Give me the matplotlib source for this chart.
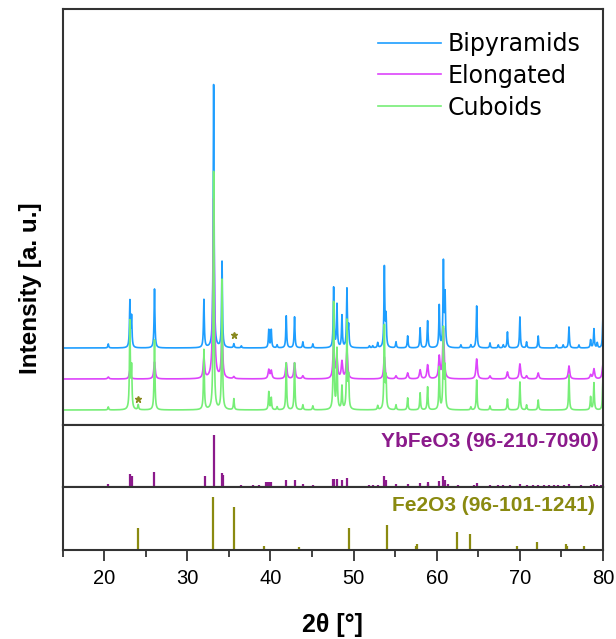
import numpy as np
import matplotlib.pyplot as plt

# peak positions (2theta, deg) and heights (a.u.) of the measured patterns
pos_bipy = [20.5, 23.1, 23.3, 26.06, 32.0, 33.17, 34.18, 35.6, 36.5, 39.8, 40.1, 40.8,
            41.9, 42.9, 43.9, 45.1, 47.6, 48.0, 48.6, 49.2, 49.4, 51.9, 52.3, 52.9,
            53.7, 53.9, 55.1, 56.5, 58.0, 58.9, 60.3, 60.8, 61.0, 62.9, 64.1, 64.8,
            66.4, 67.4, 68.0, 68.5, 70.0, 70.8, 72.2, 74.4, 75.2, 75.9, 77.1, 78.5,
            78.9, 79.3, 79.97]
int_bipy = [4, 46, 30, 59, 48, 263, 86, 4, 2, 18, 18, 3,
            32, 31, 6, 4, 60, 43, 32, 58, 20, 2, 2, 5,
            80, 30, 6, 12, 20, 27, 42, 84, 51, 3, 3, 42,
            5, 3, 3, 16, 31, 6, 12, 3, 3, 21, 3, 8,
            19, 5, 28]

pos_elong = [20.5, 23.1, 26.06, 32.0, 33.17, 34.18, 35.6, 39.8, 40.1, 41.9, 42.9, 43.9,
             47.6, 48.0, 48.6, 49.2, 53.7, 55.1, 56.5, 58.0, 58.9, 60.3, 60.8, 64.8,
             66.4, 68.5, 70.0, 70.8, 72.2, 75.9, 78.5, 78.9, 79.97]
int_elong = [2, 9, 17, 21, 180, 47, 2, 9, 8, 16, 16, 3,
             35, 20, 17, 28, 22, 3, 6, 9, 14, 22, 50, 20,
             3, 7, 15, 3, 6, 13, 4, 10, 14]

pos_cub = [20.5, 23.1, 23.3, 24.1, 26.06, 32.0, 33.17, 34.18, 35.6, 39.8, 40.1, 40.8,
           41.9, 42.9, 43.9, 45.1, 47.6, 48.0, 48.6, 49.2, 49.4, 52.9, 53.7, 53.9,
           55.1, 56.5, 58.0, 58.9, 60.3, 60.8, 61.0, 64.1, 64.8, 66.4, 68.5, 70.0,
           70.8, 72.2, 75.9, 78.5, 78.9, 79.97]
int_cub = [3, 87, 40, 5, 70, 60, 238, 130, 11, 18, 12, 3,
           47, 47, 5, 4, 107, 60, 23, 88, 30, 4, 83, 30,
           5, 12, 17, 23, 42, 80, 40, 3, 30, 4, 11, 28,
           5, 10, 35, 13, 27, 28]

labels = ['Bipyramids', 'Elongated', 'Cuboids']
offsets = [77, 46, 15]
colors = ['#1e9eff', '#dd44fb', '#77ee77']

# reference patterns
pos_ybfeo3 = [20.5, 23.1, 23.3, 26.06, 32.1, 33.2, 34.2, 34.3, 36.5, 37.9, 38.6, 39.5,
              39.7, 39.9, 40.1, 41.9, 42.9, 43.9, 45.1, 47.5, 47.7, 48.0, 48.6, 49.2,
              51.9, 52.3, 52.9, 53.7, 53.9, 55.1, 56.5, 58.0, 58.9, 59.0, 60.3, 60.8,
              61.0, 61.4, 62.6, 64.5, 64.9, 66.4, 67.4, 68.0, 68.8, 70.0, 70.8, 71.6,
              72.2, 72.9, 73.5, 74.1, 74.6, 75.3, 75.9, 77.3, 78.5, 78.9, 79.3, 79.7]
int_ybfeo3 = [3.3, 13, 11, 15, 11, 52, 14, 12, 2.3, 2.3, 2.3, 5,
              5, 5, 5, 7.7, 7, 3, 2.7, 8, 8, 8, 7.7, 9,
              2, 2, 2.5, 11.7, 7, 3, 3, 4, 5, 3, 6, 11.7,
              7, 3, 2, 2, 4, 2, 2, 2, 2, 3.7, 2, 2,
              2, 2, 2, 2, 2, 2, 3, 2, 2, 3, 2, 2]

pos_fe2o3 = [24.1, 33.1, 35.6, 39.2, 43.4, 49.4, 54.0, 57.5, 57.6, 62.4, 64.0, 69.6,
             72.0, 75.5, 75.7, 77.7]
int_fe2o3 = [22.3, 53.3, 43.3, 4.3, 3.7, 22.7, 25.3, 4.3, 6.7, 18.3, 16, 4,
             8, 6, 4, 4]

# Fe2O3 impurity reflections marked in the patterns
star_x = [35.65, 24.1]
star_y = [90, 26]


def pattern(x, pos, height, hw):
    y = np.zeros_like(x)
    for p, h in zip(pos, height):
        y += h / (1 + ((x - p) / hw)**2)
    return y


tt = np.arange(15, 80.001, 0.01)

fig = plt.figure(figsize=(6.16, 6.39), dpi=100)
ax1 = fig.add_axes([0.1015, 0.3349, 0.8775, 0.6510])
ax2 = fig.add_axes([0.1015, 0.2374, 0.8775, 0.0975])
ax3 = fig.add_axes([0.1015, 0.1385, 0.8775, 0.0989])

curves = [(pos_bipy, int_bipy, 0.06), (pos_elong, int_elong, 0.1), (pos_cub, int_cub, 0.06)]
for (p, h, w), off, c, lab in zip(curves, offsets, colors, labels):
    ax1.plot(tt, pattern(tt, p, h, w) + off, color=c, lw=1.2, label=lab)
ax1.plot(star_x, star_y, '*', color='#8a8a20', ms=5, ls='none')
ax1.set_ylim(0, 416)

ax2.vlines(pos_ybfeo3, 0, int_ybfeo3, color='#8b1a8b', lw=1.6)
ax2.set_ylim(0, 62)
ax2.text(79.5, 46, 'YbFeO3 (96-210-7090)', color='#8b1a8b', fontsize=15,
         fontweight='bold', family='Liberation Sans', ha='right', va='center')

ax3.vlines(pos_fe2o3, 0, int_fe2o3, color='#8a8a10', lw=1.6)
ax3.set_ylim(0, 63)
ax3.text(79.0, 45, 'Fe2O3 (96-101-1241)', color='#8a8a10', fontsize=15,
         fontweight='bold', family='Liberation Sans', ha='right', va='center')

for ax in (ax1, ax2, ax3):
    ax.set_xlim(15, 80)
    ax.set_yticks([])
    for s in ax.spines.values():
        s.set_color('#333333')
        s.set_linewidth(1.5)
    ax.set_xticks(np.arange(20, 81, 10))
    ax.set_xticks(np.arange(15, 81, 10), minor=True)
    ax.tick_params(axis='x', which='both', direction='out', width=1.3, color='#333333')
    ax.tick_params(axis='x', which='major', length=8, labelsize=14.5, pad=5)
    ax.tick_params(axis='x', which='minor', length=5)

for ax in (ax1, ax2):
    ax.tick_params(axis='x', which='both', bottom=False, labelbottom=False)

for t in ax3.get_xticklabels():
    t.set_family('Liberation Sans')

ax3.set_xlabel('2θ [°]', fontsize=18, fontweight='bold', family='Liberation Sans', labelpad=18)
fig.text(0.049, 0.5485, 'Intensity [a. u.]', rotation=90, fontsize=17.5, fontweight='bold',
         family='Liberation Sans', ha='center', va='center')

ax1.legend(loc='upper left', bbox_to_anchor=(0.6136, 0.9500), bbox_transform=fig.transFigure,
           frameon=False, fontsize=17, handlelength=2.65, handletextpad=0.3,
           labelspacing=0.33, borderpad=0, borderaxespad=0)

plt.savefig('out.png', dpi=100)
